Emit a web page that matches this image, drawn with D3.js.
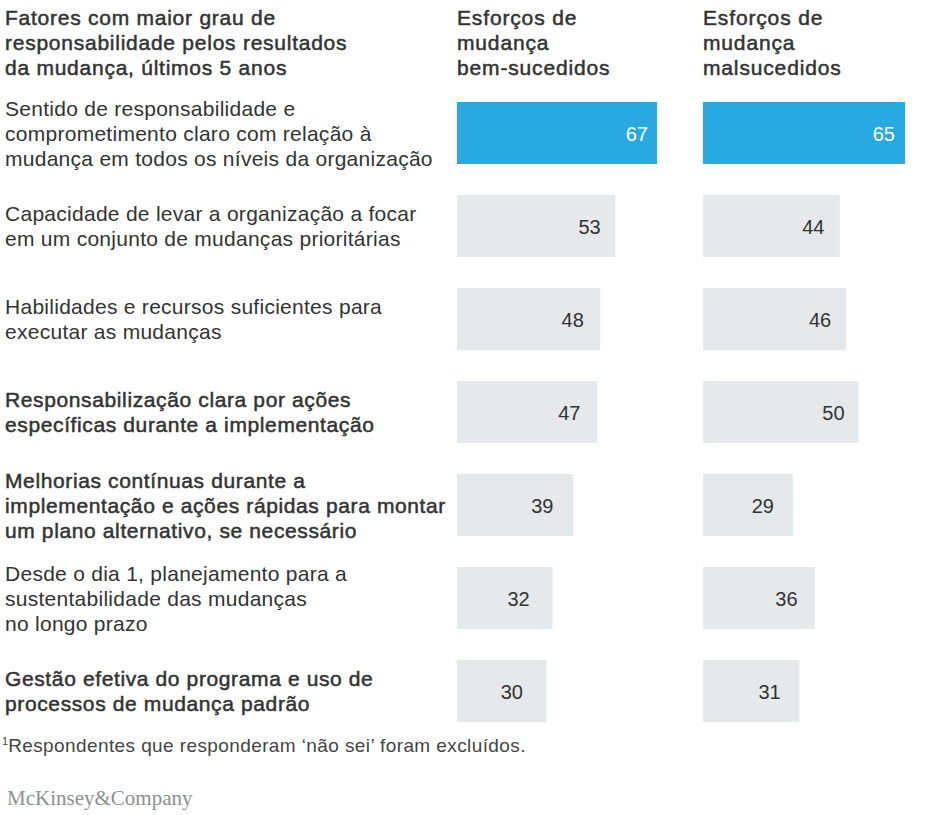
<!DOCTYPE html>
<html><head><meta charset="utf-8">
<script src="https://cdn.jsdelivr.net/npm/d3@7"></script>
<style>
html,body{margin:0;padding:0;background:#fff;}
svg{display:block;}
</style></head>
<body>
<svg id="chart" width="930" height="815"></svg>
<script>
// ---- DATA ----
const categories = [
  "Sentido de responsabilidade e\ncomprometimento claro com relação à\nmudança em todos os níveis da organização",
  "Capacidade de levar a organização a focar\nem um conjunto de mudanças prioritárias",
  "Habilidades e recursos suficientes para\nexecutar as mudanças",
  "Responsabilização clara por ações\nespecíficas durante a implementação",
  "Melhorias contínuas durante a\nimplementação e ações rápidas para montar\num plano alternativo, se necessário",
  "Desde o dia 1, planejamento para a\nsustentabilidade das mudanças\nno longo prazo",
  "Gestão efetiva do programa e uso de\nprocessos de mudança padrão"
];
const successful = [67, 53, 48, 47, 39, 32, 30];
const unsuccessful = [65, 44, 46, 50, 29, 36, 31];
const emphasizedRows = [3, 4, 6];
const highlightedRows = [0];
const titleText = "Fatores com maior grau de\nresponsabilidade pelos resultados\nda mudança, últimos 5 anos";
const seriesHeaders = ["Esforços de\nmudança\nbem-sucedidos", "Esforços de\nmudança\nmalsucedidos"];
const footnote = "Respondentes que responderam ‘não sei’ foram excluídos.";
const brand = "McKinsey&Company";

// ---- LAYOUT / STYLE ----
const FONT = "'Liberation Sans', Arial, Helvetica, sans-serif";
const TEXT = "#333333";
const BLUE = "#29a9e1";
const GREY = "#e5e9eb";
const LH = 25;
const FS = 21;
const LS_REG = 0.27;
const LS_MED = 0.62;

const svg = d3.select("#chart");

const y = d3.scaleBand().domain(d3.range(categories.length)).range([102, 722]).paddingInner(1/3).paddingOuter(0);

const cols = [
  {x0: 457, values: successful, width: 200, header: seriesHeaders[0], lab: [65, 190]},
  {x0: 703, values: unsuccessful, width: 202, header: seriesHeaders[1], lab: [70, 191]}
];

function multiline(sel, text, x, y0, lh) {
  const t = sel.append("text").attr("x", x).attr("y", y0);
  text.split("\n").forEach((line, i) => {
    t.append("tspan").attr("x", x).attr("y", y0 + i * lh).text(line);
  });
  return t;
}
function medium(t, ls) {
  return t.attr("font-family", FONT).attr("font-size", FS).attr("fill", TEXT)
    .attr("stroke", TEXT).attr("stroke-width", 0.5).attr("letter-spacing", ls);
}

// title
medium(multiline(svg, titleText, 5, 24.5, LH), 0.75);

// row labels, vertically centred on their bars
categories.forEach((c, i) => {
  const n = c.split("\n").length;
  const y0 = y(i) + y.bandwidth() / 2 + 7.5 - (n - 1) * LH / 2;
  const t = multiline(svg, c, 5, y0, LH)
    .attr("font-family", FONT).attr("font-size", FS).attr("fill", TEXT)
    .attr("letter-spacing", LS_REG);
  if (emphasizedRows.includes(i)) medium(t, LS_MED);
});

cols.forEach(col => {
  const x = d3.scaleLinear().domain([0, d3.max(col.values)]).range([0, col.width]);
  const lx = d3.scaleLinear().domain(d3.extent(col.values)).range(col.lab);
  const g = svg.append("g").attr("transform", `translate(${col.x0},0)`);
  medium(multiline(g, col.header, 0, 24.5, LH), 0.85);
  g.selectAll("rect").data(col.values).join("rect")
    .attr("x", 0).attr("y", (d, i) => y(i))
    .attr("width", d => x(d)).attr("height", y.bandwidth())
    .attr("fill", (d, i) => highlightedRows.includes(i) ? BLUE : GREY);
  g.selectAll("text.val").data(col.values).join("text").attr("class", "val")
    .attr("x", d => lx(d) + 1).attr("y", (d, i) => y(i) + y.bandwidth() / 2 + 7.5)
    .attr("text-anchor", "end")
    .attr("font-family", FONT).attr("font-size", 20)
    .attr("fill", (d, i) => highlightedRows.includes(i) ? "#ffffff" : TEXT)
    .text(d => d);
});

// footnote
const fn = svg.append("text").attr("x", 2).attr("y", 752)
  .attr("font-family", FONT).attr("font-size", 19).attr("fill", "#444")
  .attr("letter-spacing", 0.4);
fn.append("tspan").attr("font-size", 11).attr("dy", -7).attr("letter-spacing", 0).text("1");
fn.append("tspan").attr("dy", 7).text(footnote);

// brand
svg.append("text").attr("x", 7).attr("y", 805)
  .attr("font-family", "'Liberation Serif', 'Times New Roman', serif")
  .attr("font-size", 21).attr("fill", "#8b9090").text(brand);
</script>
</body></html>
